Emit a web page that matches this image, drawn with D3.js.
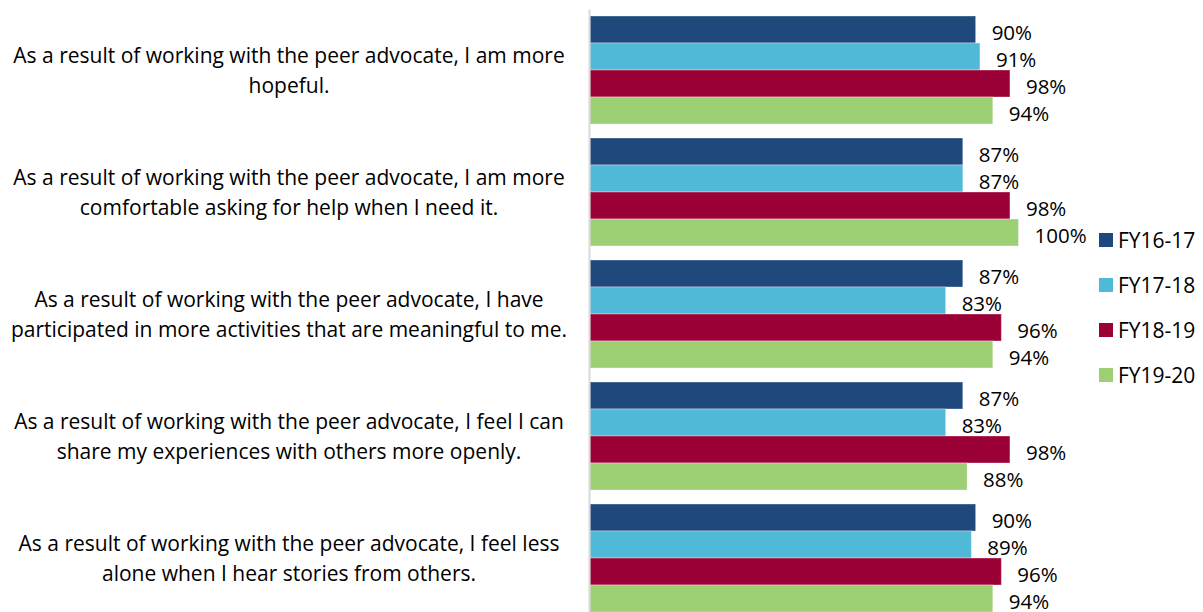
<!DOCTYPE html>
<html>
<head>
<meta charset="utf-8">
<script src="https://cdn.jsdelivr.net/npm/d3@7"></script>
<style>
  html, body { margin: 0; padding: 0; background: #fff; }
  svg { display: block; }
  text { font-family: "Open Sans", "Noto Sans", sans-serif; fill: #000; }
</style>
</head>
<body>
<svg id="chart" width="1203" height="612"></svg>
<script>
// Survey statements (two display lines each)
const categories = [
  "As a result of working with the peer advocate, I am more hopeful.",
  "As a result of working with the peer advocate, I am more comfortable asking for help when I need it.",
  "As a result of working with the peer advocate, I have participated in more activities that are meaningful to me.",
  "As a result of working with the peer advocate, I feel I can share my experiences with others more openly.",
  "As a result of working with the peer advocate, I feel less alone when I hear stories from others."
];
const categoryLines = [
  ["As a result of working with the peer advocate, I am more", "hopeful."],
  ["As a result of working with the peer advocate, I am more", "comfortable asking for help when I need it."],
  ["As a result of working with the peer advocate, I have", "participated in more activities that are meaningful to me."],
  ["As a result of working with the peer advocate, I feel I can", "share my experiences with others more openly."],
  ["As a result of working with the peer advocate, I feel less", "alone when I hear stories from others."]
];

// Fiscal years and percent agreeing, per statement
const seriesNames = ["FY16-17", "FY17-18", "FY18-19", "FY19-20"];
const fy1617 = [90, 87, 87, 87, 90];
const fy1718 = [91, 87, 83, 83, 89];
const fy1819 = [98, 98, 96, 98, 96];
const fy1920 = [94, 100, 94, 88, 94];
const seriesColors = ["#1f497d", "#4fb9d7", "#9b0036", "#9dcf74"];

const seriesValues = [fy1617, fy1718, fy1819, fy1920];

const svg = d3.select("#chart");

const y0 = d3.scaleBand()
  .domain(categories)
  .range([9, 619])
  .paddingInner(14 / 122)
  .paddingOuter(7 / 122);

const y1 = d3.scaleBand()
  .domain(seriesNames)
  .range([0, y0.bandwidth()]);

const x = d3.scaleLinear().domain([0, 100]).range([590, 1018.5]);

const color = d3.scaleOrdinal().domain(seriesNames).range(seriesColors);

// Bars
const groups = svg.append("g")
  .selectAll("g")
  .data(categories)
  .join("g")
  .attr("transform", c => `translate(0,${y0(c)})`);

groups.selectAll("rect")
  .data((c, i) => seriesNames.map((s, j) => ({ s, v: seriesValues[j][i] })))
  .join("rect")
  .attr("x", x(0))
  .attr("y", d => y1(d.s))
  .attr("width", d => x(d.v) - x(0))
  .attr("height", y1.bandwidth())
  .attr("fill", d => color(d.s))
  .attr("stroke", "rgba(255,255,255,0.35)")
  .attr("stroke-width", 1);

// Value labels
groups.selectAll("text.val")
  .data((c, i) => seriesNames.map((s, j) => ({ s, v: seriesValues[j][i] })))
  .join("text")
  .attr("class", "val")
  .attr("x", d => x(d.v) + 16)
  .attr("y", d => y1(d.s) + y1.bandwidth() / 2 + 10)
  .attr("font-size", 20.5)
  .text(d => d.v + "%");

// Category axis
const axis = svg.append("g")
  .attr("transform", "translate(589,0)")
  .call(d3.axisLeft(y0).tickSize(0).tickFormat(""));
axis.select(".domain").attr("stroke", "#d9d9d9").attr("stroke-width", 2);

// Category labels
const labels = svg.append("g")
  .selectAll("text")
  .data(categories)
  .join("text")
  .attr("text-anchor", "middle")
  .attr("font-size", 21)
  .attr("y", c => y0(c) + y0.bandwidth() / 2);

labels.selectAll("tspan")
  .data((c, i) => categoryLines[i])
  .join("tspan")
  .attr("x", 289)
  .attr("dy", (d, k) => k === 0 ? -7 : 30)
  .text(d => d);

// Legend
const legend = svg.append("g")
  .selectAll("g")
  .data(seriesNames)
  .join("g")
  .attr("transform", (d, i) => `translate(1099,${233 + i * 45})`);

legend.append("rect")
  .attr("width", 14)
  .attr("height", 14)
  .attr("fill", d => color(d));

legend.append("text")
  .attr("x", 19)
  .attr("y", 15)
  .attr("font-size", 21)
  .text(d => d);
</script>
</body>
</html>
